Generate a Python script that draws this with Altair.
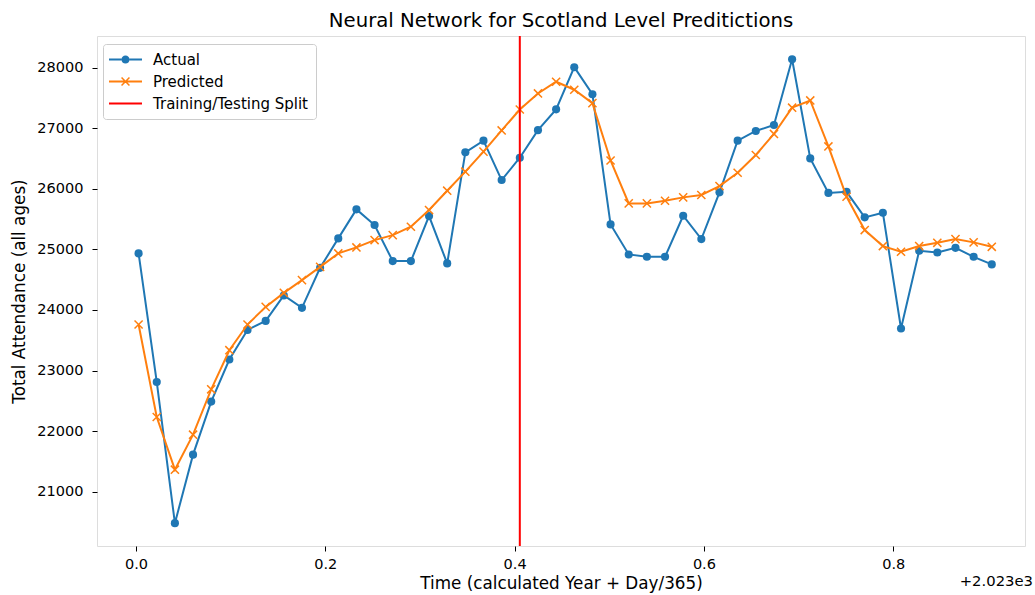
import altair as alt
import pandas as pd

# ---- data ----
day_of_year = [1, 8, 15, 22, 29, 36, 43, 50, 57, 64, 71, 78, 85, 92, 99, 106,
               113, 120, 127, 134, 141, 148, 155, 162, 169, 176, 183, 190, 197,
               204, 211, 218, 225, 232, 239, 246, 253, 260, 267, 274, 281, 288,
               295, 302, 309, 316, 323, 330]
actual = [24934, 22812, 20481, 21612, 22488, 23182, 23671, 23820, 24240, 24035,
          24696, 25182, 25661, 25402, 24807, 24807, 25550, 24769, 26603, 26795,
          26145, 26514, 26969, 27312, 28008, 27562, 25413, 24917, 24878, 24878,
          25556, 25170, 25942, 26795, 26955, 27054, 28140, 26502, 25933, 25950,
          25529, 25605, 23694, 24977, 24950, 25026, 24878, 24752]
predicted = [23760, 22233, 21364, 21942, 22691, 23336, 23760, 24051, 24283, 24493,
             24712, 24934, 25033, 25154, 25236, 25374, 25650, 25969, 26283, 26614,
             26964, 27310, 27575, 27768, 27636, 27415, 26468, 25760, 25760, 25803,
             25859, 25898, 26046, 26266, 26559, 26906, 27340, 27459, 26700, 25869,
             25319, 25055, 24961, 25055, 25109, 25170, 25116, 25043]
split_day = 148
legend_labels = ["Actual", "Predicted", "Training/Testing Split"]
x_ticks = [0.0, 0.2, 0.4, 0.6, 0.8]
y_ticks = [21000, 22000, 23000, 24000, 25000, 26000, 27000, 28000]
offset_label = ["+2.023e3"]
title_text = "Neural Network for Scotland Level Preditictions"

BLUE, ORANGE, RED = "#1f77b4", "#ff7f0e", "#ff0000"
FONT = "DejaVu Sans"
TICK_FS = 14.5
TITLE_AX_FS = 16.8

frac = [d / 365 for d in day_of_year]
long = pd.concat([
    pd.DataFrame({"frac": frac, "value": actual, "series": "Actual"}),
    pd.DataFrame({"frac": frac, "value": predicted, "series": "Predicted"}),
])

W, H = 928, 510
xscale = alt.Scale(domain=[-0.0412, 0.9392], nice=False, zero=False)
yscale = alt.Scale(domain=[20104, 28523], nice=False, zero=False)

xaxis = alt.Axis(values=x_ticks, format=".1f", grid=False, domain=False,
                 tickSize=5, tickColor="black", labelPadding=6,
                 labelFontSize=TICK_FS, labelFont=FONT, labelColor="black",
                 titleFontSize=TITLE_AX_FS, titleFont=FONT, titleFontWeight="normal",
                 titleColor="black", titlePadding=5)
yaxis = alt.Axis(values=y_ticks, format="d", grid=False, domain=False,
                 tickSize=5, tickColor="black", labelPadding=9,
                 labelFontSize=TICK_FS, labelFont=FONT, labelColor="black",
                 titleFontSize=TITLE_AX_FS, titleFont=FONT, titleFontWeight="normal",
                 titleColor="black", titlePadding=8)

X = alt.X("frac:Q", scale=xscale, axis=xaxis, title="Time (calculated Year + Day/365)")
Y = alt.Y("value:Q", scale=yscale, axis=yaxis, title="Total Attendance (all ages)")

act = alt.Chart(long).transform_filter(alt.datum.series == "Actual")
pred = alt.Chart(long).transform_filter(alt.datum.series == "Predicted")

act_line = act.mark_line(color=BLUE, strokeWidth=2).encode(x=X, y=Y)
act_pts = act.mark_circle(color=BLUE, size=66, opacity=1).encode(x=X, y=Y)
pred_line = pred.mark_line(color=ORANGE, strokeWidth=2).encode(x=X, y=Y)
pred_pts = pred.mark_point(shape="M-1,-1L1,1M-1,1L1,-1", filled=False,
                           color=ORANGE, size=66, strokeWidth=1.5,
                           opacity=1).encode(x=X, y=Y)

split = alt.Chart(pd.DataFrame({"frac": [split_day / 365]})).mark_rule(
    color=RED, strokeWidth=2).encode(x=X)

# legend glyphs (line + marker) as filled paths
line_l = "M-2,-0.12L-0.5,-0.12L-0.5,0.12L-2,0.12Z"
line_r = "M0.5,-0.12L2,-0.12L2,0.12L0.5,0.12Z"
circle = "M0.5,0A0.5,0.5 0 1,1 -0.5,0A0.5,0.5 0 1,1 0.5,0Z"
arm1 = "M-0.416,-0.544L0.544,0.416L0.416,0.544L-0.544,-0.416Z"
arm2 = "M0.544,-0.416L-0.416,0.544L-0.544,0.416L0.416,-0.544Z"
full_line = "M-2,-0.12L2,-0.12L2,0.12L-2,0.12Z"
shape_actual = line_l + line_r + circle
shape_pred = line_l + line_r + "M-0.5,-0.12L0.5,-0.12L0.5,0.12L-0.5,0.12Z" + arm1 + arm2
shape_split = full_line

legend = alt.Legend(orient="none", legendX=6, legendY=8, title=None,
                    symbolSize=272, symbolStrokeWidth=0, symbolOffset=7,
                    labelOffset=19, labelFontSize=15, labelFont=FONT,
                    labelColor="black", rowPadding=5, padding=7,
                    fillColor="rgba(255,255,255,0.8)", strokeColor="#cccccc",
                    cornerRadius=3, symbolOpacity=1)
leg_df = pd.DataFrame({"series": legend_labels, "frac": [-1.0] * 3, "value": [0] * 3})
leg = alt.Chart(leg_df).mark_point(filled=True, clip=True, opacity=1).encode(
    x=X, y=Y,
    color=alt.Color("series:N", scale=alt.Scale(domain=legend_labels,
                                                range=[BLUE, ORANGE, RED]),
                    legend=legend),
    shape=alt.Shape("series:N", scale=alt.Scale(domain=legend_labels,
                                                range=[shape_actual, shape_pred, shape_split]),
                    legend=legend),
)

offset_txt = alt.Chart(pd.DataFrame({"t": offset_label})).mark_text(
    align="right", baseline="middle", fontSize=14.8, font=FONT, color="black"
).encode(text="t:N", x=alt.value(W + 8), y=alt.value(H + 36))

chart = alt.layer(act_line, act_pts, pred_line, pred_pts, split, leg, offset_txt).properties(
    width=W, height=H,
    title=alt.TitleParams(title_text, fontSize=19.7, font=FONT, fontWeight="normal",
                          anchor="middle", offset=4, color="black"),
    autosize=alt.AutoSizeParams(type="none"),
    padding={"left": 97, "top": 36, "right": 10, "bottom": 49},
).configure_view(stroke="black", strokeWidth=1).configure(background="white")

chart.save("out.html", embed_options={"renderer": "svg", "actions": False})
